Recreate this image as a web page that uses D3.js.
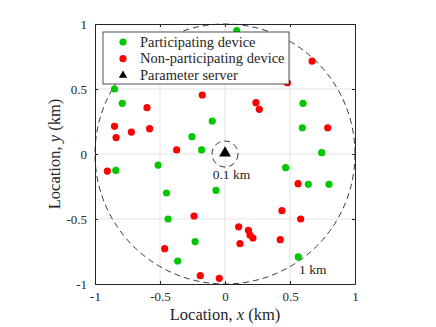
<!DOCTYPE html>
<html>
<head>
<meta charset="utf-8">
<script src="https://cdn.jsdelivr.net/npm/d3@7"></script>
<style>
  body { margin: 0; background: #fff; }
  text { font-family: "Liberation Serif", "DejaVu Serif", serif; fill: #262626; }
</style>
</head>
<body>
<svg id="chart" width="436" height="327"></svg>
<script>
// Participating devices (x, y in km)
var greenX = [-0.85, -0.79, -0.098, -0.254, -0.18, 0.09, 0.60, 0.595, 0.744, -0.84,
              -0.515, -0.45, -0.069, -0.438, -0.23, -0.364, 0.467, 0.641, 0.80, 0.564];
var greenY = [0.50, 0.39, 0.254, 0.133, 0.031, 0.95, 0.39, 0.202, 0.01, -0.126,
              -0.085, -0.30, -0.28, -0.50, -0.674, -0.823, -0.105, -0.233, -0.233, -0.792];

// Non-participating devices
var redX = [-0.175, -0.60, -0.85, -0.838, -0.72, -0.58, -0.372, 0.67, 0.48, 0.238,
            0.264, 0.79, -0.905, -0.238, -0.464, -0.19, -0.044, 0.562, 0.438, 0.582,
            0.105, 0.18, 0.192, 0.215, 0.115, 0.425];
var redY = [0.454, 0.356, 0.213, 0.126, 0.169, 0.195, 0.031, 0.715, 0.548, 0.395,
            0.344, 0.202, -0.131, -0.477, -0.728, -0.936, -0.956, -0.228, -0.436, -0.50,
            -0.56, -0.587, -0.623, -0.646, -0.69, -0.659];

// Parameter server
var serverX = [0];
var serverY = [0];

var tickValues = [-1, -0.5, 0, 0.5, 1];
var legendLabels = ["Participating device", "Non-participating device", "Parameter server"];
var radii = [1, 0.1];

var margin = {top: 24, left: 95},
  width = 260, height = 260;

var x = d3.scaleLinear().domain([-1, 1]).range([0, width]);
var y = d3.scaleLinear().domain([-1, 1]).range([height, 0]);

var svg = d3.select("#chart")
  .append("g")
  .attr("transform", "translate(" + margin.left + "," + margin.top + ")");

// grid
svg.selectAll(".gx").data(tickValues.slice(1, -1)).enter().append("line")
  .attr("x1", function(d) { return x(d); }).attr("x2", function(d) { return x(d); })
  .attr("y1", 0).attr("y2", height)
  .attr("stroke", "#e3e3e3").attr("stroke-width", 1);
svg.selectAll(".gy").data(tickValues.slice(1, -1)).enter().append("line")
  .attr("y1", function(d) { return y(d); }).attr("y2", function(d) { return y(d); })
  .attr("x1", 0).attr("x2", width)
  .attr("stroke", "#e3e3e3").attr("stroke-width", 1);

// axes (ticks inward, box)
function fmt(d) { return d === 0 ? "0" : String(d); }
var ax = svg.append("g").attr("transform", "translate(0," + height + ")")
  .call(d3.axisBottom(x).tickValues(tickValues).tickFormat(fmt).tickSizeInner(-3).tickSizeOuter(0).tickPadding(8));
var ay = svg.append("g")
  .call(d3.axisLeft(y).tickValues(tickValues).tickFormat(fmt).tickSizeInner(-3).tickSizeOuter(0).tickPadding(8));
var axTop = svg.append("g")
  .call(d3.axisTop(x).tickValues(tickValues).tickFormat("").tickSizeInner(-3).tickSizeOuter(0));
var ayRight = svg.append("g").attr("transform", "translate(" + width + ",0)")
  .call(d3.axisRight(y).tickValues(tickValues).tickFormat("").tickSizeInner(-3).tickSizeOuter(0));
[ax, ay, axTop, ayRight].forEach(function(g) {
  g.selectAll("path, line").attr("stroke", "#262626");
  g.selectAll("text").style("font-family", "'Liberation Serif', serif").style("font-size", "13px").attr("fill", "#262626");
});

// dashed circles
svg.selectAll(".ring").data(radii).enter().append("circle")
  .attr("cx", x(0)).attr("cy", y(0))
  .attr("r", function(d) { return x(d) - x(0); })
  .attr("fill", "none").attr("stroke", "#222").attr("stroke-width", 0.9)
  .attr("stroke-dasharray", "6,4");

svg.append("text").attr("x", x(-0.095)).attr("y", y(-0.195))
  .style("font-size", "13.5px").text("0.1 km");
svg.append("text").attr("x", x(0.57)).attr("y", y(-0.925))
  .style("font-size", "13.5px").text("1 km");

// devices
svg.selectAll(".red").data(d3.range(redX.length)).enter().append("circle")
  .attr("cx", function(i) { return x(redX[i]); })
  .attr("cy", function(i) { return y(redY[i]); })
  .attr("r", 3.6).attr("fill", "#ff0000");
svg.selectAll(".green").data(d3.range(greenX.length)).enter().append("circle")
  .attr("cx", function(i) { return x(greenX[i]); })
  .attr("cy", function(i) { return y(greenY[i]); })
  .attr("r", 3.6).attr("fill", "#00c800");

var tri = d3.symbol().type(d3.symbolTriangle).size(60);
svg.selectAll(".server").data(d3.range(serverX.length)).enter().append("path")
  .attr("d", tri)
  .attr("transform", function(i) { return "translate(" + x(serverX[i]) + "," + (y(serverY[i]) - 1) + ")"; })
  .attr("fill", "#000");

// legend
var leg = svg.append("g").attr("transform", "translate(" + (103 - margin.left) + "," + (32 - margin.top) + ")");
leg.append("rect").attr("width", 186).attr("height", 52)
  .attr("fill", "#fff").attr("stroke", "#262626").attr("stroke-width", 0.8);
var legendMarks = [
  function(g) { g.append("circle").attr("r", 3.6).attr("fill", "#00c800"); },
  function(g) { g.append("circle").attr("r", 3.6).attr("fill", "#ff0000"); },
  function(g) { g.append("path").attr("d", d3.symbol().type(d3.symbolTriangle).size(30)).attr("fill", "#000"); }
];
legendLabels.forEach(function(label, i) {
  var row = leg.append("g").attr("transform", "translate(0," + (10 + i * 16.7) + ")");
  legendMarks[i](row.append("g").attr("transform", "translate(20,0)"));
  row.append("text").attr("x", 37).attr("y", 4.5).style("font-size", "14.5px").text(label);
});

// axis labels
var xl = d3.select("#chart").append("text")
  .attr("x", margin.left + width / 2).attr("y", 320)
  .attr("text-anchor", "middle").style("font-size", "16.5px");
xl.append("tspan").text("Location, ");
xl.append("tspan").style("font-style", "italic").text("x");
xl.append("tspan").text(" (km)");

var yl = d3.select("#chart").append("text")
  .attr("transform", "translate(60," + (margin.top + height / 2) + ") rotate(-90)")
  .attr("text-anchor", "middle").style("font-size", "16.5px");
yl.append("tspan").text("Location, ");
yl.append("tspan").style("font-style", "italic").text("y");
yl.append("tspan").text(" (km)");
</script>
</body>
</html>
